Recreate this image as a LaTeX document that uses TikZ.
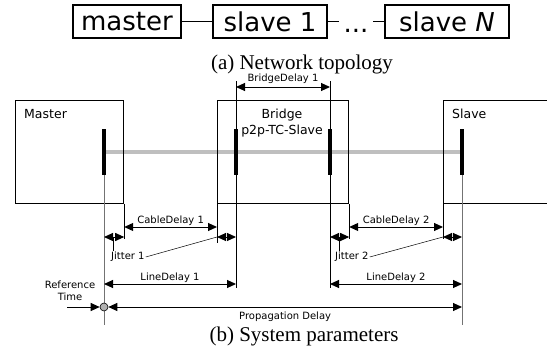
\documentclass[tikz,border=0pt]{standalone}
\usepackage{fontspec}
\setmainfont{Liberation Serif}
\newfontfamily\dvsans{DejaVu Sans}
\usetikzlibrary{arrows.meta,backgrounds}

\tikzset{
  topbox/.style={draw, line width=1.3pt, minimum height=33pt, inner sep=0pt,
    font=\dvsans\fontsize{26}{30}\selectfont},
  unitbox/.style={draw, line width=1.2pt, anchor=north west, minimum height=103pt, inner sep=0pt},
  port/.style={fill=black, minimum width=4.5pt, minimum height=46pt, inner sep=0pt},
  boxlbl/.style={font=\dvsans\fontsize{12.5}{16}\selectfont, inner sep=0pt},
  dimlbl/.style={font=\dvsans\fontsize{10}{12}\selectfont, inner sep=1pt},
  dimline/.style={{Triangle[length=9pt,width=8pt]}-{Triangle[length=9pt,width=8pt]}, line width=1pt},
  refline/.style={-{Triangle[length=9pt,width=8pt]}, line width=1pt},
  ext/.style={line width=0.7pt},
  portline/.style={line width=1pt, black!55},
  cable/.style={line width=3.5pt, black!25},
  caption/.style={font=\fontsize{21}{25}\selectfont}
}

\begin{document}
\begin{tikzpicture}[x=1pt, y=-1pt]
\clip (0,0) rectangle (547,356);

% Network topology
\node[topbox, minimum width=108pt] (tmaster) at (127,21.5) {master};
\node[topbox, minimum width=114pt] (tslave1) at (270,21.5) {slave 1};
\node[topbox, minimum width=124pt] (tslaveN) at (447,21.5) {slave \textit{N}};
\node[font=\dvsans\fontsize{26}{30}\selectfont, anchor=base, inner sep=0pt] (tdots) at (356,32) {...};
\draw[line width=1.3pt] (tmaster) -- (tslave1);
\draw[line width=1.3pt] (tslave1.east) -- ++(11,0);
\draw[line width=1.3pt] (tslaveN.west) -- ++(-11,0);
\node[caption, anchor=base] (capa) at (302,69) {(a) Network topology};

% Levels of the dimension lines
\coordinate (lvTop) at (0,81);
\coordinate (lvBD) at (0,87);
\coordinate (lvCD) at (0,227);
\coordinate (lvJ) at (0,237);
\coordinate (lvLD) at (0,284);
\coordinate (lvLow) at (0,288);
\coordinate (lvPD) at (0,307);
\coordinate (lvEnd) at (0,325);

% Master, bridge and slave
\node[unitbox, minimum width=108pt] (mbox) at (15,100) {};
\node[unitbox, minimum width=131pt] (bbox) at (217,100) {};
\node[unitbox, minimum width=124pt] (sbox) at (443,100) {};
\node[boxlbl, anchor=base west] (mlbl) at (24,118) {Master};
\node[boxlbl, anchor=base] (blbl) at (282,118) {Bridge};
\node[boxlbl, anchor=base] (blbl2) at (282,134.5) {p2p-TC-Slave};
\node[boxlbl, anchor=base west] (slbl) at (452,118) {Slave};

% Ports and cable
\node[port] (mport) at (104,152) {};
\node[port] (bportA) at (236,152) {};
\node[port] (bportB) at (330,152) {};
\node[port] (sport) at (462,152) {};
\begin{scope}[on background layer]
\draw[cable] (mport) -- (sport);
\end{scope}

% Extension lines
\draw[portline] (mport.south) -- (mport.south |- lvEnd);
\draw[portline] (sport.south) -- (sport.south |- lvEnd);
\draw[ext] (mbox.south east) -- ++(0,35);
\draw[ext] (bbox.south west) -- ++(0,39);
\draw[ext] (bbox.south east) -- ++(0,35);
\draw[ext] (sbox.south west) -- ++(0,35);
\draw[ext] (bportA |- lvTop) -- (bportA |- lvLow);
\draw[ext] (bportB |- lvTop) -- (bportB |- lvLow);

% Delays
\draw[dimline] (bportA |- lvBD) -- node[dimlbl, above=2pt] {BridgeDelay 1} (bportB |- lvBD);
\draw[dimline] (mbox.south east |- lvCD) -- node[dimlbl, above] {CableDelay 1} (bbox.south west |- lvCD);
\draw[dimline] (bbox.south east |- lvCD) -- node[dimlbl, above] {CableDelay 2} (sbox.south west |- lvCD);
\draw[dimline] (mport |- lvLD) -- node[dimlbl, above] {LineDelay 1} (bportA |- lvLD);
\draw[dimline] (bportB |- lvLD) -- node[dimlbl, above] {LineDelay 2} (sport |- lvLD);

% Jitter
\draw[dimline] (mport |- lvJ) -- (mbox.south east |- lvJ);
\draw[dimline] (bbox.south west |- lvJ) -- (bportA |- lvJ);
\draw[dimline] (bportB |- lvJ) -- (bbox.south east |- lvJ);
\draw[dimline] (sbox.south west |- lvJ) -- (sport |- lvJ);
\node[dimlbl, anchor=west] (jit1) at (110,257) {Jitter 1};
\node[dimlbl, anchor=west] (jit2) at (334,257) {Jitter 2};
\coordinate (j1) at (113.5,237);
\coordinate (j2) at (339,237);
\draw[ext] (j1) -- (j1 |- jit1.north);
\draw[ext] (j2) -- (j2 |- jit2.north);
\draw[line width=0.5pt] (jit1.east) -- (bbox.south west |- lvJ);
\draw[line width=0.5pt] (jit2.east) -- (sbox.south west |- lvJ);

% Reference time and propagation delay
\node[dimlbl, align=center] (reflbl) at (70,291) {Reference\\Time};
\node[circle, draw, fill=black!30, minimum size=8pt, inner sep=0pt, line width=0.6pt] (reft) at (mport |- lvPD) {};
\coordinate (refin) at (67,307);
\draw[refline] (refin) -- (reft.west);
\draw[dimline] (reft.east) -- node[dimlbl, below=3pt] {Propagation Delay} (sport |- lvPD);

\node[caption, anchor=base] (capb) at (304,341) {(b) System parameters};

\end{tikzpicture}
\end{document}
